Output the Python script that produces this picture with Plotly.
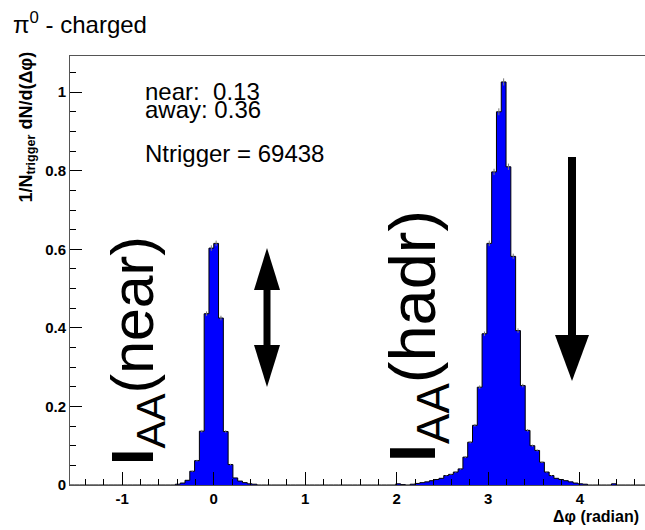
import math
import plotly.graph_objects as go

# ---------------- data ----------------
# histogram: 120 bins covering [-pi/2, 3pi/2]
N_BINS = 120
X_MIN, X_MAX = -math.pi / 2, 3 * math.pi / 2
near_side = [  # bins j = -30 .. 8  (bin j covers [j*w, (j+1)*w])
    0, 0, 0, 0, 0, 0, 0, 0, 0, 0,
    0, 0, 0, 0, 0, 0, 0, 0, 0, 0,
    0, 0, 0.002, 0.005, 0.012, 0.035, 0.062, 0.137, 0.436, 0.603,
    0.615, 0.425, 0.136, 0.052, 0.018, 0.010, 0.006, 0.003, 0.002,
]
middle = [  # bins j = 9 .. 40
    0, 0, 0, 0, 0, 0, 0, 0, 0, 0,
    0, 0, 0, 0, 0, 0, 0, 0, 0, 0,
    0, 0, 0, 0, 0, 0, 0, 0, 0, 0.003,
    0.001, 0,
]
away_side = [  # bins j = 41 .. 89
    0.002, 0.004, 0.006, 0.008, 0.011, 0.014, 0.017, 0.024, 0.027, 0.033,
    0.041, 0.071, 0.109, 0.152, 0.249, 0.385, 0.615, 0.797, 0.950, 1.026,
    0.810, 0.582, 0.393, 0.253, 0.139, 0.100, 0.088, 0.058, 0.033, 0.024,
    0.017, 0.014, 0.011, 0.008, 0.005, 0.003, 0.002, 0, 0, 0,
    0, 0, 0.003, 0, 0, 0, 0, 0, 0,
]
counts = near_side + middle + away_side

x_ticks = [-1, 0, 1, 2, 3, 4]
y_ticks = [0, 0.2, 0.4, 0.6, 0.8, 1]
y_tick_text = ["0", "0.2", "0.4", "0.6", "0.8", "1"]

title_text = "π<sup>0</sup> - charged"
stats_lines = ["near:&nbsp; 0.13", "away: 0.36", "Ntrigger = 69438"]
y_title = "1/N<sub>trigger</sub> dN/d(Δφ)"
x_title = "Δφ (radian)"
big_labels = ["<b>I</b><sub>AA</sub>(near)", "<b>I</b><sub>AA</sub>(hadr)"]

# ---------------- layout geometry ----------------
FIG_W, FIG_H = 645, 530
L, T, W, H = 70, 56, 575, 429
Y_MIN, Y_MAX = 0.0, 1.092


def px2x(px):
    return X_MIN + (px - L) / W * (X_MAX - X_MIN)


def py2y(py):
    return Y_MIN + (T + H - py) / H * (Y_MAX - Y_MIN)


def px2paper(px):
    return (px - L) / W


def py2paper(py):
    return (T + H - py) / H


w = (X_MAX - X_MIN) / N_BINS
edges = [X_MIN + i * w for i in range(N_BINS + 1)]
centers = [X_MIN + (i + 0.5) * w for i in range(N_BINS)]

fig = go.Figure()
fig.add_trace(go.Scatter(
    x=edges, y=counts + [counts[-1]],
    mode="lines", line=dict(shape="hv", color="black", width=1),
    fill="tozeroy", fillcolor="#0000ff", hoverinfo="skip", showlegend=False,
))
ex = [c for c, v in zip(centers, counts) if v > 0.02]
ey = [v for v in counts if v > 0.02]
ee = [0.009 * math.sqrt(v) for v in ey]
fig.add_trace(go.Scatter(
    x=ex, y=ey, mode="markers", marker=dict(size=1, color="rgba(0,0,0,0)"),
    error_y=dict(type="data", array=ee, color="#777777", thickness=1, width=0),
    hoverinfo="skip", showlegend=False,
))

tickfont = dict(family="Liberation Sans", size=15, color="black", weight="bold")
fig.update_xaxes(
    range=[X_MIN, X_MAX], tickvals=x_ticks, ticktext=[str(t) for t in x_ticks],
    ticks="inside", ticklen=13, tickcolor="black", tickwidth=1,
    minor=dict(dtick=0.2, tick0=0, ticks="inside", ticklen=6, tickcolor="black"),
    showline=True, linecolor="#555555", linewidth=1, mirror=True,
    showgrid=False, zeroline=False, tickfont=tickfont,
)
fig.update_yaxes(
    range=[Y_MIN, Y_MAX], tickvals=y_ticks, ticktext=y_tick_text,
    ticks="inside", ticklen=12, tickcolor="black", tickwidth=1,
    minor=dict(dtick=0.05, tick0=0, ticks="inside", ticklen=6, tickcolor="black"),
    showline=True, linecolor="#555555", linewidth=1, mirror=True,
    showgrid=False, zeroline=False, tickfont=tickfont,
)

ann = []
ann.append(dict(text=title_text, xref="paper", yref="paper",
                x=px2paper(11), y=py2paper(23), xanchor="left", yanchor="middle",
                showarrow=False, font=dict(family="Liberation Sans", size=24, color="black")))
for line, py in zip(stats_lines, [91, 110, 153]):
    ann.append(dict(text=line, xref="paper", yref="paper",
                    x=px2paper(143), y=py2paper(py), xanchor="left", yanchor="middle",
                    showarrow=False, font=dict(family="Liberation Sans", size=24, color="black")))
ann.append(dict(text=y_title, xref="paper", yref="paper",
                x=px2paper(27), y=py2paper(50), xanchor="center", yanchor="top",
                textangle=-90, showarrow=False,
                font=dict(family="Liberation Sans", size=18, color="black", weight="bold")))
ann.append(dict(text=x_title, xref="paper", yref="paper",
                x=px2paper(641), y=py2paper(516), xanchor="right", yanchor="middle",
                showarrow=False,
                font=dict(family="Liberation Sans", size=16, color="black", weight="bold")))
for lab, (cx, cy), fs in zip(big_labels, [(137, 351), (417, 336)], [59, 65]):
    ann.append(dict(text=lab, xref="x", yref="y", x=px2x(cx), y=py2y(cy),
                    xanchor="center", yanchor="middle", textangle=-90, showarrow=False,
                    font=dict(family="Liberation Sans", size=fs, color="black")))
fig.update_layout(annotations=ann)

# arrows (pixel geometry converted to data units)
shapes = []


def arrow_head(cx, tip_py, base_py, half_w):
    return dict(type="path", xref="x", yref="y", fillcolor="black", line=dict(width=0),
                path=f"M {px2x(cx - half_w)},{py2y(base_py)} L {px2x(cx + half_w)},{py2y(base_py)} "
                     f"L {px2x(cx)},{py2y(tip_py)} Z")


# double arrow
dx, d_top, d_bot, d_head, d_hw = 267, 248, 387, 42, 13
shapes.append(dict(type="line", xref="x", yref="y", x0=px2x(dx), x1=px2x(dx),
                   y0=py2y(d_top + d_head - 2), y1=py2y(d_bot - d_head + 2),
                   line=dict(color="black", width=7)))
shapes.append(arrow_head(dx, d_top, d_top + d_head, d_hw))
shapes.append(arrow_head(dx, d_bot, d_bot - d_head, d_hw))
# down arrow
sx, s_top, s_bot, s_head, s_hw = 572, 157, 381, 46, 17
shapes.append(dict(type="line", xref="x", yref="y", x0=px2x(sx), x1=px2x(sx),
                   y0=py2y(s_top), y1=py2y(s_bot - s_head + 2),
                   line=dict(color="black", width=8)))
shapes.append(arrow_head(sx, s_bot, s_bot - s_head, s_hw))
fig.update_layout(shapes=shapes)

fig.update_layout(
    width=FIG_W, height=FIG_H,
    margin=dict(l=L, r=FIG_W - L - W, t=T, b=FIG_H - T - H, pad=0),
    paper_bgcolor="white", plot_bgcolor="white",
    font=dict(family="Liberation Sans"),
)
fig.write_html("out.html")
